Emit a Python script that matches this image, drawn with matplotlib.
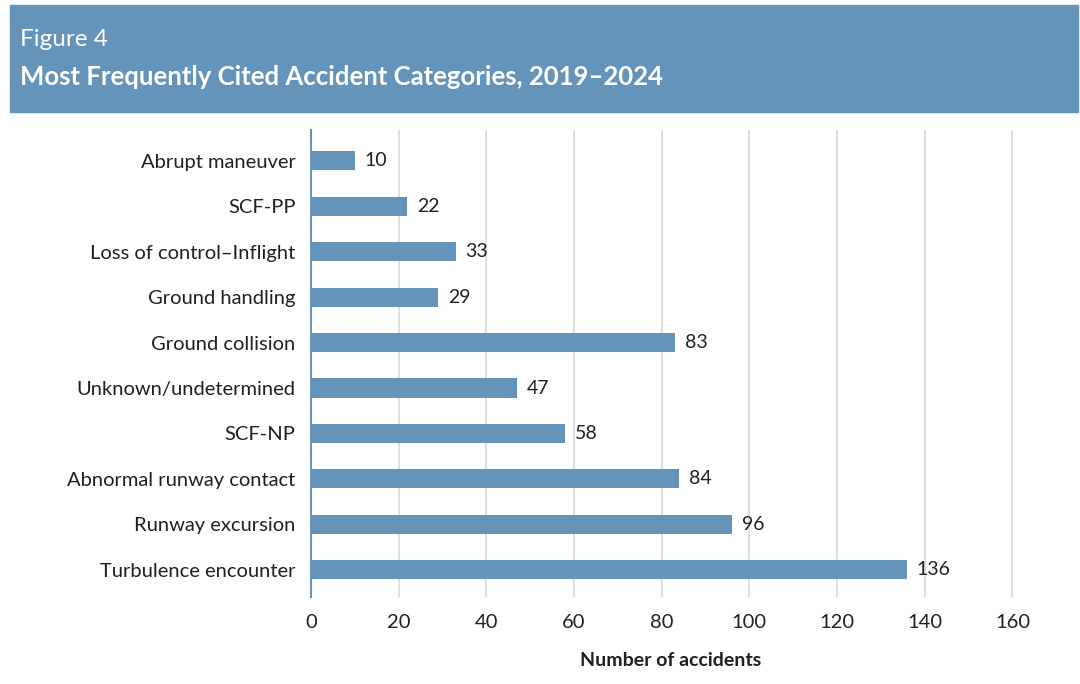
import numpy as np
import matplotlib.pyplot as plt
from matplotlib.patches import Rectangle

plt.rcParams['font.family'] = ['Lato', 'DejaVu Sans']

# accident categories, bottom to top
categories = ['Turbulence encounter', 'Runway excursion', 'Abnormal runway contact',
              'SCF-NP', 'Unknown/undetermined', 'Ground collision',
              'Ground handling', 'Loss of control\u2013Inflight', 'SCF-PP',
              'Abrupt maneuver']
counts = [136, 96, 84, 58, 47, 83, 29, 33, 22, 10]
xticks = [0, 20, 40, 60, 80, 100, 120, 140, 160]

blue = '#6594bb'
ink = '#231f20'

fig = plt.figure(figsize=(10.8, 6.84), dpi=100)

# header band
fig.patches.append(Rectangle((10/1080, 1-112/684), 1068/1080, 107/684,
                             transform=fig.transFigure, color=blue, zorder=0))
fig.text(20/1080, 1-40/684, 'Figure 4', color='white', fontsize=17.5,
         va='center', ha='left')
fig.text(20/1080, 1-77/684, 'Most Frequently Cited Accident Categories, 2019\u20132024',
         color='white', fontsize=18.5, fontweight='bold', va='center', ha='left')

ax = fig.add_axes([311/1080, 1-597/684, 719/1080, 467/684])
y = np.arange(len(categories))
bars = ax.barh(y, counts, height=0.42, color=blue, zorder=3)
ax.bar_label(bars, padding=7, fontsize=14, color=ink)

ax.set_yticks(y)
ax.set_yticklabels(categories, fontsize=14.5, color=ink)
ax.set_xticks(xticks)
ax.set_xticklabels([str(t) for t in xticks], fontsize=14.5, color=ink)
ax.set_xlim(0, 164)
ax.set_ylim(-0.6, 9.68)
ax.tick_params(axis='x', length=0, pad=12)
ax.tick_params(axis='y', length=0, pad=11)
ax.grid(axis='x', color='#d9d9d9', linewidth=1.2, zorder=0)
for s in ['top', 'right', 'bottom', 'left']:
    ax.spines[s].set_visible(False)
ax.axvline(0, color=blue, linewidth=1.5, zorder=5, clip_on=False)
ax.set_xlabel('Number of accidents', fontsize=14, fontweight='bold',
              color=ink, labelpad=15)

fig.savefig('out.png', dpi=100)
